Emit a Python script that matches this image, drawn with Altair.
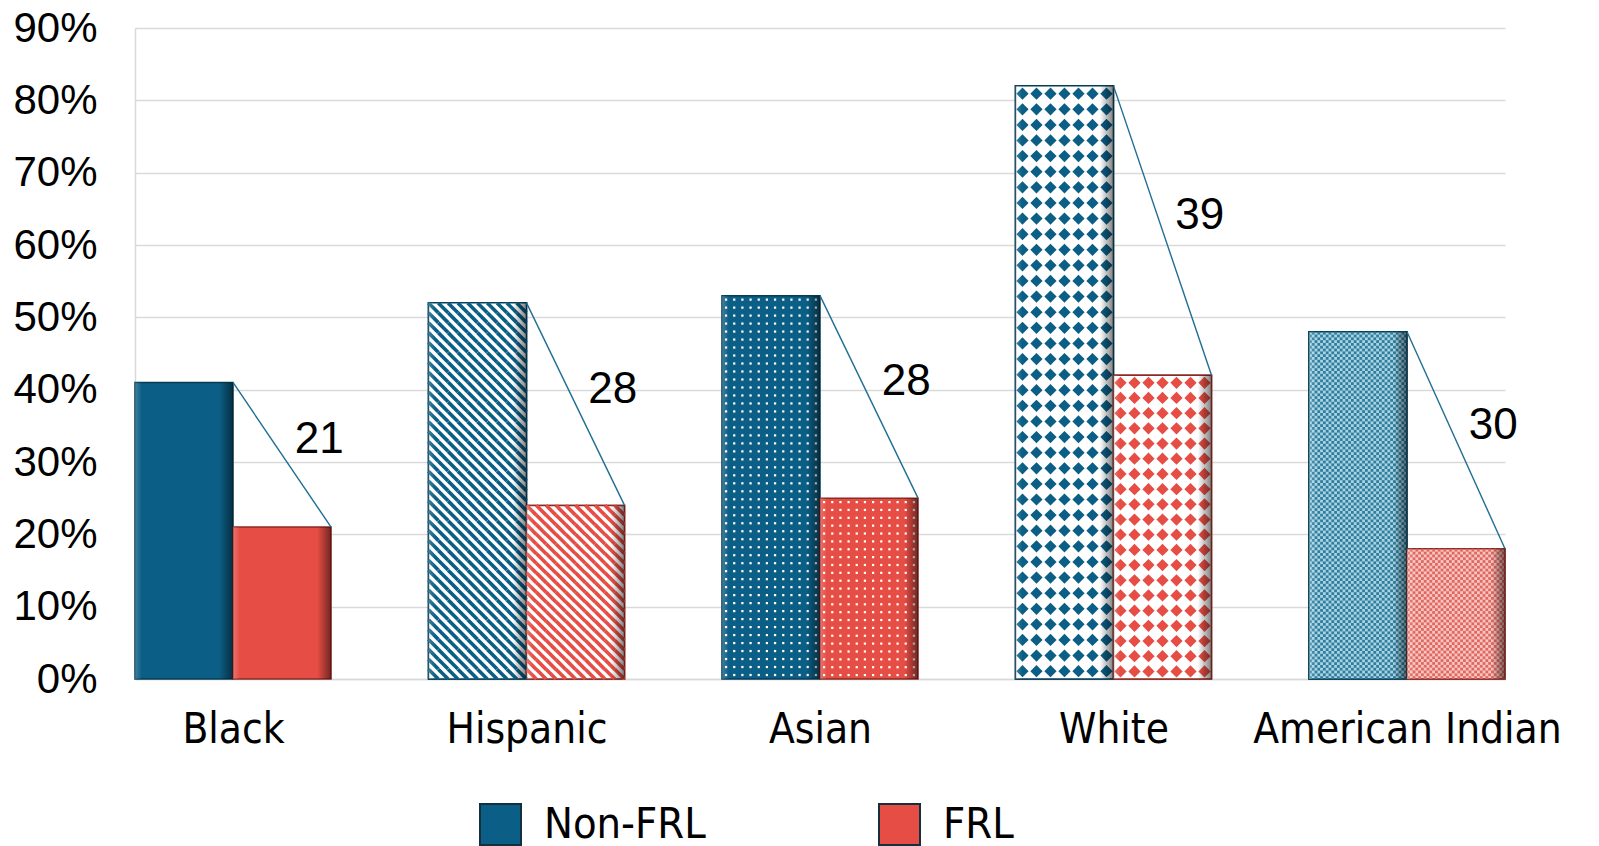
import json
import altair as alt
import pandas as pd

# ---------------- data ----------------
categories = ["Black", "Hispanic", "Asian", "White", "American Indian"]
non_frl = [41, 52, 53, 82, 48]
frl = [21, 24, 25, 42, 18]
gap_labels = ["21", "28", "28", "39", "30"]
series_names = ["Non-FRL", "FRL"]
patterns = ["solid", "stripes", "dots", "diamonds", "mesh"]
y_ticks = [0, 10, 20, 30, 40, 50, 60, 70, 80, 90]

# ---------------- layout / style ----------------
W = 0.668                      # group width as a fraction of the category step
PLOT_W, PLOT_H = 1370, 651
X_MAX = len(categories) - 1 + W
Y_MAX = 90
PX_X = PLOT_W / X_MAX
PX_Y = PLOT_H / Y_MAX

BLUE, RED = "#0B5E85", "#E64D44"
BLUE_DARK, RED_DARK = "#073C55", "#8A2B26"
BLUE_LIGHT, RED_LIGHT = "#A9D4E3", "#F7C6C1"
BLUE_MESH, RED_MESH = "#2F7C9C", "#E0675F"
LINE_COL = "#1F6E93"
GRID = "#D9D9D9"
NARROW = "Liberation Sans Narrow, DejaVu Sans Condensed, sans-serif"
ARIAL = "Liberation Sans, Arial, sans-serif"

main = {0: BLUE, 1: RED}
dark = {0: BLUE_DARK, 1: RED_DARK}
light = {0: BLUE_LIGHT, 1: RED_LIGHT}
meshc = {0: BLUE_MESH, 1: RED_MESH}

rows = []
for i, cat in enumerate(categories):
    for s, vals in enumerate((non_frl, frl)):
        pat = patterns[i]
        if pat in ("stripes", "diamonds"):
            bg = "#FFFFFF"
        elif pat == "mesh":
            bg = light[s]
        else:
            bg = main[s]
        rows.append(dict(cat=cat, series=series_names[s], s=s, value=vals[i],
                         xa=i + s * W / 2, xb=i + (s + 1) * W / 2,
                         pattern=pat, bg=bg, edge=dark[s]))
bars = pd.DataFrame(rows)

# ---------------- textures (decoration derived from the bars) ----------------
stripes, dots, diamonds, mesh = [], [], [], []
for r in bars.itertuples():
    wpx = (r.xb - r.xa) * PX_X
    hpx = r.value * PX_Y
    dx_unit = (r.xb - r.xa)
    if r.pattern == "stripes":
        nx = max(1, round(wpx / 10))
        cx = wpx / nx
        ny = max(1, round(hpx / cx))
        for ix in range(nx):
            for iy in range(ny):
                stripes.append(dict(x=r.xa + (ix + 0.5) * dx_unit / nx,
                                    y=(iy + 0.5) * r.value / ny,
                                    c=main[r.s], sz=cx * cx))
    elif r.pattern == "dots":
        nx = max(1, round(wpx / 8))
        ny = max(1, round(hpx / 8))
        for ix in range(nx):
            for iy in range(ny):
                dots.append(dict(x=r.xa + (ix + 0.5) * dx_unit / nx,
                                 y=(iy + 0.5) * r.value / ny, c="#FFFFFF", sz=5))
    elif r.pattern == "diamonds":
        nx = max(1, round(wpx / 14.5))
        ny = max(1, round(hpx / 15.5))
        for ix in range(nx):
            for iy in range(ny):
                diamonds.append(dict(x=r.xa + (ix + 0.5) * dx_unit / nx,
                                     y=(iy + 0.5) * r.value / ny, c=main[r.s], sz=150))
    elif r.pattern == "mesh":
        nx = max(1, round(wpx / 2.8))
        ny = max(1, round(hpx / 2.8))
        cell = wpx / nx
        for ix in range(nx):
            for iy in range(ny):
                if (ix + iy) % 2 == 0:
                    mesh.append(dict(x=r.xa + (ix + 0.5) * dx_unit / nx,
                                     y=(iy + 0.5) * r.value / ny, c=meshc[r.s],
                                     sz=cell * cell))

lines = pd.DataFrame(dict(cat=categories, non=non_frl, frl=frl, label=gap_labels,
                          idx=list(range(len(categories)))))
lines["xs"] = lines["idx"] + W / 2
lines["xe"] = lines["idx"] + W
lines["ly"] = (lines["non"] + lines["frl"]) / 2 + 2.0
lines["lx"] = lines["idx"] + W - 0.04

# ---------------- scales / axes ----------------
xscale = alt.Scale(domain=[0, X_MAX], nice=False, zero=False)
yscale = alt.Scale(domain=[0, Y_MAX], nice=False, zero=True)

label_expr = json.dumps(categories) + "[round(datum.value)]"

xaxis = alt.Axis(values=[i + W / 2 for i in range(len(categories))],
                 labelExpr=label_expr, ticks=False, grid=False,
                 domain=True, domainColor=GRID, domainWidth=1.5,
                 labelFont=NARROW, labelFontSize=42, labelColor="#000000",
                 labelBaseline="alphabetic", labelPadding=63,
                 labelLimit=0, labelOverlap=False, labelFlush=False)
yaxis = alt.Axis(values=y_ticks, labelExpr="datum.value + '%'",
                 ticks=False, grid=True, gridColor=GRID, gridWidth=1.5,
                 domain=True, domainColor=GRID, domainWidth=1.5,
                 labelFont=ARIAL, labelFontSize=42, labelColor="#000000",
                 labelPadding=38)


def X(field):
    return alt.X(field, scale=xscale, axis=xaxis, title=None)


def Y(field):
    return alt.Y(field, scale=yscale, axis=yaxis, title=None)


base_bars = alt.Chart(bars).mark_bar(opacity=1, strokeWidth=1.5).encode(
    x=X("xa:Q"), x2="xb:Q",
    y=Y("value:Q"), y2=alt.datum(0),
    fill=alt.Fill("series:N", scale=alt.Scale(domain=series_names, range=[BLUE, RED]),
                  legend=alt.Legend(title=None, orient="none", legendX=344, legendY=775,
                                    direction="horizontal", symbolType="square",
                                    symbolSize=1681, symbolStrokeColor="#14303F",
                                    symbolStrokeWidth=2, labelFont=NARROW,
                                    labelFontSize=43, labelColor="#000000",
                                    labelOffset=22, columnPadding=169, padding=0,
                                    labelLimit=0)),
    stroke=alt.Stroke("edge:N", scale=None),
)

bg_bars = alt.Chart(bars).transform_filter(
    "datum.pattern != 'solid' && datum.pattern != 'dots'"
).mark_bar(opacity=1, strokeWidth=1.5).encode(
    x=X("xa:Q"), x2="xb:Q",
    y=Y("value:Q"), y2=alt.datum(0),
    fill=alt.Fill("bg:N", scale=None),
    stroke=alt.Stroke("edge:N", scale=None),
)


def tex_layer(rows_, **mark):
    return alt.Chart(pd.DataFrame(rows_)).mark_point(opacity=1, **mark).encode(
        x=X("x:Q"),
        y=Y("y:Q"),
        color=alt.Color("c:N", scale=None),
        size=alt.Size("sz:Q", scale=None),
    )


stripe_layer = tex_layer(stripes, shape="M-1,-1L1,1", filled=False, strokeWidth=3.6)
dot_layer = tex_layer(dots, shape="square", filled=True, strokeWidth=0)
diamond_layer = tex_layer(diamonds, shape="diamond", filled=True, strokeWidth=0)
mesh_layer = tex_layer(mesh, shape="square", filled=True, strokeWidth=0)

bevel = alt.Chart(bars).mark_bar(
    opacity=1,
    fill=alt.Gradient(gradient="linear", x1=0, x2=1, y1=0, y2=0, stops=[
        alt.GradientStop(color="rgba(255,255,255,0.22)", offset=0),
        alt.GradientStop(color="rgba(255,255,255,0)", offset=0.07),
        alt.GradientStop(color="rgba(0,0,0,0)", offset=0.86),
        alt.GradientStop(color="rgba(0,0,0,0.5)", offset=1),
    ]),
    strokeWidth=0,
).encode(
    x=X("xa:Q"), x2="xb:Q",
    y=Y("value:Q"), y2=alt.datum(0),
)

gap_lines = alt.Chart(lines).mark_rule(color=LINE_COL, strokeWidth=1.4, opacity=1).encode(
    x=X("xs:Q"), x2="xe:Q",
    y=Y("non:Q"), y2="frl:Q",
)

gap_text = alt.Chart(lines).mark_text(font=ARIAL, fontSize=44, color="#000000",
                                      align="center", baseline="middle").encode(
    x=X("lx:Q"),
    y=Y("ly:Q"),
    text="label:N",
)

chart = alt.layer(
    base_bars, bg_bars, stripe_layer, dot_layer, diamond_layer, mesh_layer,
    bevel, gap_lines, gap_text,
).properties(
    width=PLOT_W, height=PLOT_H,
    autosize=alt.AutoSizeParams(type="none"),
    padding={"left": 135, "top": 28, "right": 94, "bottom": 167},
    background="#FFFFFF",
).configure_view(stroke=None)

chart.save("out.html", embed_options={"renderer": "svg", "actions": False})
